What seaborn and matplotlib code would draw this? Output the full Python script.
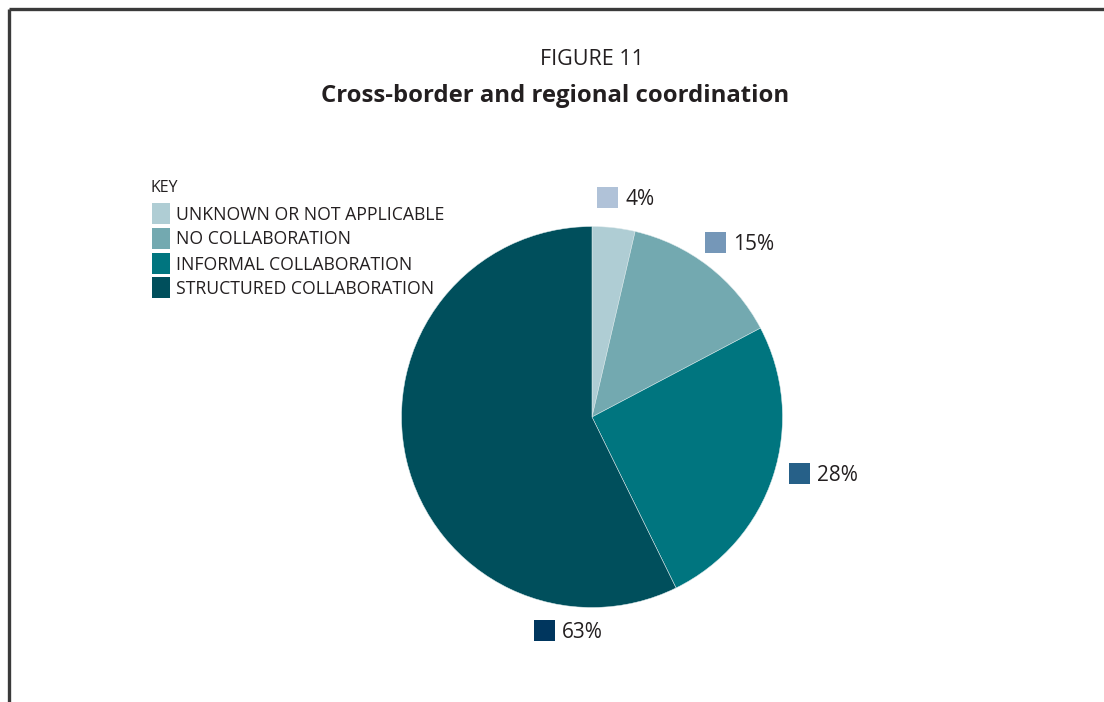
import matplotlib
matplotlib.use("Agg")
import matplotlib.pyplot as plt
from matplotlib.patches import Rectangle
import seaborn as sns

# Survey shares of cross-border and regional coordination
categories = [
    "UNKNOWN OR NOT APPLICABLE",
    "NO COLLABORATION",
    "INFORMAL COLLABORATION",
    "STRUCTURED COLLABORATION",
]
shares = [4, 15, 28, 63]
slice_colors = ["#AFCDD4", "#73A9B0", "#00757F", "#004F5C"]
marker_colors = ["#B0C2D8", "#7597B8", "#266088", "#00365E"]

sns.set_theme(style="white")
plt.rcParams["font.family"] = ["Open Sans", "DejaVu Sans"]

W, H = 1104, 702
fig = plt.figure(figsize=(W / 100, H / 100), dpi=100)
ax = fig.add_axes([0, 0, 1, 1])


def Y(y):
    return H - y


text_color = "#231F20"

# pie
ax.pie(shares, colors=slice_colors, startangle=90, counterclock=False,
       center=(592, Y(417)), radius=190.5, frame=True,
       wedgeprops=dict(linewidth=0.35, edgecolor="#DDEAEC"))
ax.set_xlim(0, W)
ax.set_ylim(0, H)
ax.set_aspect("equal")
ax.axis("off")

# frame around the figure (top and left rules)
ax.plot([9, W], [Y(9), Y(9)], color="#3A3A3A", lw=2.4, solid_capstyle="butt")
ax.plot([9, 9], [Y(9), 0], color="#3A3A3A", lw=2.4, solid_capstyle="butt")

# titles
ax.text(592, Y(59.5), "FIGURE 11", ha="center", va="center", fontsize=15.5,
        color=text_color)
ax.text(555, Y(95.5), "Cross-border and regional coordination", ha="center",
        va="center", fontsize=17.2, fontweight="bold", color=text_color)

# key
ax.text(151, Y(187.5), "KEY", ha="left", va="center", fontsize=11.5,
        color=text_color)
row_y = [213.5, 238, 263, 287.5]
for cat, col, ry in zip(categories, slice_colors, row_y):
    ax.add_patch(Rectangle((152, Y(ry + 10.5)), 18, 21, color=col, lw=0))
    ax.text(176, Y(ry + 1.5), cat, ha="left", va="center", fontsize=12.7,
            color=text_color)

# value labels with coloured markers
label_pos = [(597, 197.5), (705, 242.5), (789, 473.5), (534, 630.5)]
for val, col, (lx, ly) in zip(shares, marker_colors, label_pos):
    ax.add_patch(Rectangle((lx, Y(ly + 10.5)), 21, 21, color=col, lw=0))
    ax.text(lx + 28, Y(ly + 2), f"{val}%", ha="left", va="center", fontsize=15,
            color=text_color)

fig.savefig("out.png", dpi=100, facecolor="white")
